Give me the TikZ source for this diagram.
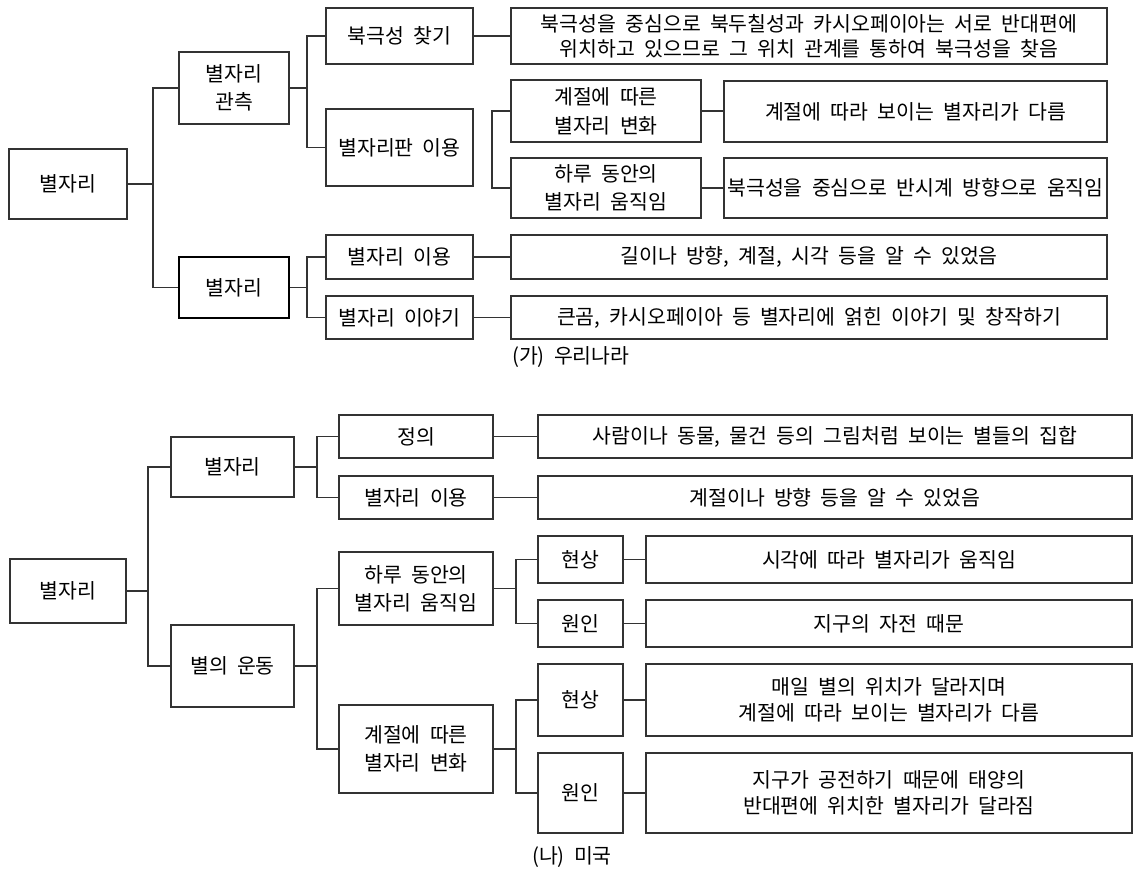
\documentclass[tikz,border=0pt]{standalone}
\usepackage{fontspec}
\setmainfont{Noto Sans CJK KR}[WordSpace=2]
\newcommand\kbox[7][box]{\node[#1, minimum width={(#5-#3)*1pt}, minimum height={(#6-#4)*1pt}] (#2) at ({(#3+#5)/2},{(#4+#6)/2}) {#7};}
\begin{document}
\begin{tikzpicture}[x=1pt,y=-1pt,
  box/.style={draw=black!80, line width=1.1pt, inner sep=0pt, align=center, font=\fontsize{20.5}{28}\selectfont},
  thickbox/.style={box, draw=black, line width=2pt},
  link/.style={draw=black!80, line width=1.1pt},
  captext/.style={inner sep=0pt, anchor=west, font=\fontsize{20.5}{28}\selectfont}]
\useasboundingbox (0,0) rectangle (1142,868);
% ---------- (가) ----------
\kbox{A}{9}{149}{127}{219}{별자리}
\kbox{B1}{179}{52}{289}{124}{별자리\\관측}
\kbox[thickbox]{B2}{179}{257}{289}{318}{별자리}
\kbox{C1}{326}{8}{473}{64}{북극성 찾기}
\kbox{C2}{326}{109}{473}{186}{별자리판 이용}
\kbox{C3}{326}{235}{473}{279}{별자리 이용}
\kbox{C4}{326}{296}{473}{339}{별자리 이야기}
\kbox{D1}{511}{8}{1107}{64}{북극성을 중심으로 북두칠성과 카시오페이아는 서로 반대편에\\[-3pt]위치하고 있으므로 그 위치 관계를 통하여 북극성을 찾음}
\kbox{E1}{511}{80}{701}{142}{계절에 따른\\[1pt]별자리 변화}
\kbox{E2}{511}{158}{701}{218}{하루 동안의\\별자리 움직임}
\kbox{F1}{724}{81}{1107}{142}{계절에 따라 보이는 별자리가 다름}
\kbox{F2}{724}{158}{1107}{218}{북극성을 중심으로 반시계 방향으로 움직임}
\kbox{D3}{511}{235}{1107}{279}{길이나 방향, 계절, 시각 등을 알 수 있었음}
\kbox{D4}{511}{296}{1107}{339}{큰곰, 카시오페이아 등 별자리에 얽힌 이야기 및 창작하기}
\node[captext] (capA) at (512,357) {(가) 우리나라};
\coordinate (t1) at (153,0);
\coordinate (t2) at (307,0);
\coordinate (t3) at (492,0);
\draw[link] (A.east) -- (A.east -| t1);
\draw[link] (B1.west) -- (B1.west -| t1) -- (B2.west -| t1) -- (B2.west);
\draw[link] (B1.east) -- (B1.east -| t2);
\draw[link] (C1.west) -- (C1.west -| t2) -- (C2.west -| t2) -- (C2.west);
\draw[link] (B2.east) -- (B2.east -| t2);
\draw[link] (C3.west) -- (C3.west -| t2) -- (C4.west -| t2) -- (C4.west);
\draw[link] (C1.east) -- (D1.west |- C1.east);
\draw[link] (E1.west) -- (E1.west -| t3) -- (E2.west -| t3) -- (E2.west);
\draw[link] (E1.east) -- (F1.west |- E1.east);
\draw[link] (E2.east) -- (F2.west |- E2.east);
\draw[link] (C3.east) -- (D3.west |- C3.east);
\draw[link] (C4.east) -- (D4.west |- C4.east);
% ---------- (나) ----------
\kbox{R}{10}{559}{126}{623}{별자리}
\kbox{G1}{171}{437}{294}{497}{별자리}
\kbox{G2}{171}{625}{294}{707}{별의 운동}
\kbox{H1}{339}{415}{493}{458}{정의}
\kbox{H2}{339}{476}{493}{519}{별자리 이용}
\kbox{H3}{339}{552}{493}{625}{하루 동안의\\별자리 움직임}
\kbox{H4}{339}{705}{493}{793}{계절에 따른\\별자리 변화}
\kbox{I1}{538}{415}{1132}{458}{사람이나 동물, 물건 등의 그림처럼 보이는 별들의 집합}
\kbox{I2}{538}{476}{1132}{519}{계절이나 방향 등을 알 수 있었음}
\kbox{J1}{538}{536}{623}{583}{현상}
\kbox{J2}{538}{600}{623}{647}{원인}
\kbox{J3}{538}{664}{623}{736}{현상}
\kbox{J4}{538}{753}{623}{833}{원인}
\kbox{K1}{646}{536}{1132}{583}{시각에 따라 별자리가 움직임}
\kbox{K2}{646}{600}{1132}{647}{지구의 자전 때문}
\kbox{K3}{646}{664}{1132}{736}{매일 별의 위치가 달라지며\\[-2pt]계절에 따라 보이는 별자리가 다름}
\kbox{K4}{646}{753}{1132}{833}{지구가 공전하기 때문에 태양의\\[-2pt]반대편에 위치한 별자리가 달라짐}
\node[captext] (capB) at (532,857) {(나) 미국};
\coordinate (b1) at (148,0);
\coordinate (b2) at (317,0);
\coordinate (b3) at (516,0);
\draw[link] (R.east) -- (R.east -| b1);
\draw[link] (G1.west) -- (G1.west -| b1) -- (G2.west -| b1) -- (G2.west);
\draw[link] (G1.east) -- (G1.east -| b2);
\draw[link] (H1.west) -- (H1.west -| b2) -- (H2.west -| b2) -- (H2.west);
\draw[link] (G2.east) -- (G2.east -| b2);
\draw[link] (H3.west) -- (H3.west -| b2) -- (H4.west -| b2) -- (H4.west);
\draw[link] (H1.east) -- (I1.west |- H1.east);
\draw[link] (H2.east) -- (I2.west |- H2.east);
\draw[link] (H3.east) -- (H3.east -| b3);
\draw[link] (J1.west) -- (J1.west -| b3) -- (J2.west -| b3) -- (J2.west);
\draw[link] (H4.east) -- (H4.east -| b3);
\draw[link] (J3.west) -- (J3.west -| b3) -- (J4.west -| b3) -- (J4.west);
\draw[link] (J1.east) -- (K1.west |- J1.east);
\draw[link] (J2.east) -- (K2.west |- J2.east);
\draw[link] (J3.east) -- (K3.west |- J3.east);
\draw[link] (J4.east) -- (K4.west |- J4.east);
\end{tikzpicture}
\end{document}
